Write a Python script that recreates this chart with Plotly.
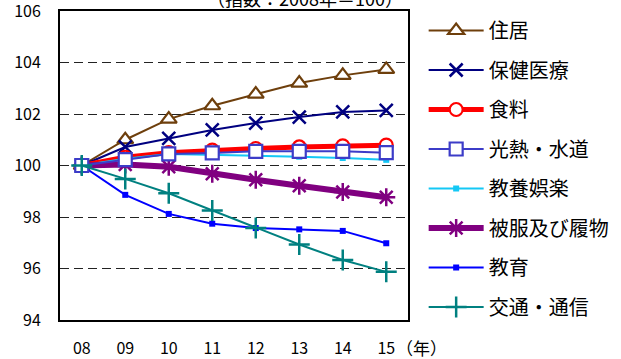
import plotly.graph_objects as go

# Years (2008 = 100)
years = ["08", "09", "10", "11", "12", "13", "14", "15"]

housing = [100, 101.0, 101.8, 102.32, 102.77, 103.2, 103.5, 103.73]
medical = [100, 100.72, 101.05, 101.38, 101.65, 101.88, 102.08, 102.14]
food = [100, 100.32, 100.5, 100.6, 100.66, 100.72, 100.76, 100.79]
fuel_water = [100, 100.23, 100.45, 100.49, 100.55, 100.55, 100.55, 100.5]
recreation = [100, 100.26, 100.45, 100.42, 100.39, 100.34, 100.29, 100.22]
clothing = [100, 100.04, 99.95, 99.68, 99.45, 99.21, 98.97, 98.77]
education = [100, 98.86, 98.12, 97.74, 97.57, 97.52, 97.46, 96.98]
transport = [100, 99.48, 98.92, 98.25, 97.57, 96.93, 96.33, 95.87]

FONT = "Noto Sans CJK JP, sans-serif"
xs = list(range(len(years)))

# name, values, colour, line width, marker symbol, marker size, marker fill, legend rank
series = [
    ("住居", housing, "#6e3f0c", 2, "triangle-up", 14, "white", 1),
    ("保健医療", medical, "#000080", 2, "x-thin", 13, None, 2),
    ("食料", food, "#ff0000", 5, "circle", 13, "white", 3),
    ("教養娯楽", recreation, "#14c8f5", 2, "square", 6, None, 5),
    ("被服及び履物", clothing, "#800080", 6, "asterisk", 15, None, 6),
    ("教育", education, "#0000ff", 2, "square", 6, None, 7),
    ("光熱・水道", fuel_water, "#3c3cc8", 2, "square", 13, "white", 4),
    ("交通・通信", transport, "#008080", 2, "cross-thin", 15, None, 8),
]

fig = go.Figure()
for name, vals, color, lw, sym, size, fill, rank in series:
    if sym in ("x-thin", "asterisk", "cross-thin"):
        marker = dict(symbol=sym, size=size, color=color,
                      line=dict(color=color, width=2.5))
    elif fill:
        marker = dict(symbol=sym, size=size, color=fill,
                      line=dict(color=color, width=2.2))
    else:
        marker = dict(symbol=sym, size=size, color=color, line=dict(width=0))
    fig.add_trace(go.Scatter(
        x=xs, y=vals, name=name, mode="lines+markers",
        line=dict(color=color, width=lw), marker=marker,
        legendrank=rank, legendgroup=name, cliponaxis=False,
    ))

fig.update_layout(
    width=621, height=359,
    margin=dict(l=60, r=213, t=11, b=39, autoexpand=False),
    paper_bgcolor="white", plot_bgcolor="white",
    font=dict(family=FONT, size=16, color="black"),
    showlegend=True,
    legend=dict(
        x=1.045, y=1.0, xanchor="left", yanchor="top",
        font=dict(family=FONT, size=20, color="black"),
        traceorder="grouped", tracegroupgap=10.5, itemwidth=55,
        bgcolor="rgba(0,0,0,0)", maxheight=359,
    ),
    xaxis=dict(
        range=[-0.5, 7.5], tickmode="array", tickvals=xs, ticktext=years,
        showgrid=False, zeroline=False, ticks="", automargin=False,
        showline=True, mirror=True, linecolor="black", linewidth=2,
        ticklabelstandoff=13, tickfont=dict(size=16),
        ticklabeloverflow="allow",
    ),
    xaxis2=dict(
        overlaying="x", anchor="free", position=0.5, side="bottom",
        range=[-0.5, 7.5], tickmode="array",
        tickvals=[i + 0.5 for i in xs[:-1]], automargin=False,
        ticks="inside", ticklen=6, tickwidth=1, tickcolor="black",
        showticklabels=False, showgrid=False, zeroline=False,
        showline=True, linecolor="black", linewidth=1.2,
        layer="below traces",
    ),
    yaxis=dict(
        range=[94, 106], dtick=2, tick0=94, automargin=False,
        showgrid=True, gridcolor="#222", gridwidth=1, griddash="9px,5px",
        zeroline=False, ticks="",
        showline=True, mirror=True, linecolor="black", linewidth=2,
        ticklabelstandoff=14, tickfont=dict(size=16),
        ticklabeloverflow="allow",
    ),
)

fig.add_annotation(
    text="（年）", xref="paper", yref="paper", x=(421 - 60) / 348, y=0,
    xanchor="center", yanchor="top", yshift=-13, showarrow=False,
    font=dict(family=FONT, size=17),
)
fig.add_annotation(
    text="（指数：2008年＝100）", xref="paper", yref="paper",
    x=(205 - 60) / 348, y=1, xanchor="left", yanchor="bottom", yshift=-2,
    showarrow=False, font=dict(family=FONT, size=18),
)

fig.write_html("out.html")
